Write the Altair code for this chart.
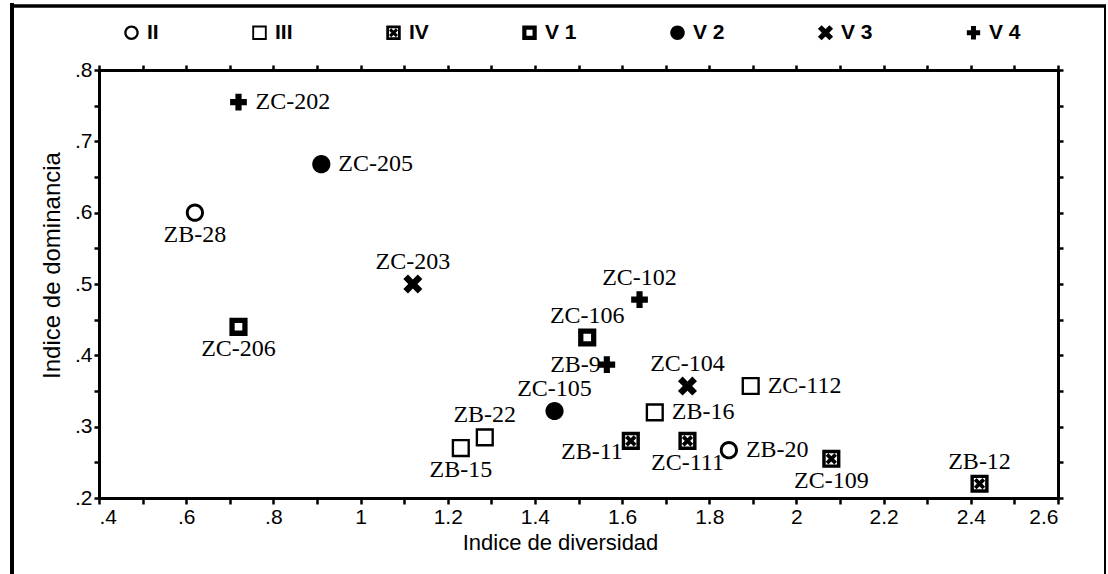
import altair as alt
import pandas as pd
import numpy as np

# ---- data ----
labels = ["ZC-202", "ZC-205", "ZB-28", "ZC-203", "ZC-206", "ZC-102", "ZC-106", "ZB-9",
          "ZC-105", "ZC-104", "ZC-112", "ZB-16", "ZB-22", "ZB-15", "ZB-11", "ZC-111",
          "ZB-20", "ZC-109", "ZB-12"]
diversidad = [0.72, 0.91, 0.62, 1.12, 0.72, 1.64, 1.52, 1.565,
              1.445, 1.75, 1.895, 1.675, 1.285, 1.23, 1.62, 1.75,
              1.845, 2.08, 2.42]
dominancia = [0.755, 0.668, 0.600, 0.500, 0.440, 0.478, 0.425, 0.387,
              0.322, 0.357, 0.357, 0.320, 0.285, 0.270, 0.280, 0.280,
              0.267, 0.255, 0.220]
grupo = ["V 4", "V 2", "II", "V 3", "V 1", "V 4", "V 1", "V 4",
         "V 2", "V 3", "III", "III", "III", "III", "IV", "IV",
         "II", "IV", "IV"]
group_order = ["II", "III", "IV", "V 1", "V 2", "V 3", "V 4"]

# label placement (layout, not data)
side = {"ZC-202": "right", "ZC-205": "right", "ZB-28": "below", "ZC-203": "above",
        "ZC-206": "below", "ZC-102": "above", "ZC-106": "above", "ZB-9": "left",
        "ZC-105": "above", "ZC-104": "above", "ZC-112": "right", "ZB-16": "right",
        "ZB-22": "above", "ZB-15": "below", "ZB-11": "lowleft", "ZC-111": "below",
        "ZB-20": "right", "ZC-109": "below", "ZB-12": "above"}

df = pd.DataFrame({"label": labels, "diversidad": diversidad,
                   "dominancia": dominancia, "grupo": grupo})
df["side"] = df["label"].map(side)

# ---- symbol shapes ----
def xshape(a=0.36, L=1.12):
    pts = [(-a, -L), (a, -L), (a, -a), (L, -a), (L, a), (a, a), (a, L), (-a, L),
           (-a, a), (-L, a), (-L, -a), (-a, -a)]
    r = 1 / np.sqrt(2)
    out = [((x - y) * r, (x + y) * r) for x, y in pts]
    return "M" + "L".join(f"{x:.3f},{y:.3f}" for x, y in out) + "Z"

ring = "M-1,0A1,1,0,1,0,1,0A1,1,0,1,0,-1,0Z M-0.68,0A0.68,0.68,0,1,1,0.68,0A0.68,0.68,0,1,1,-0.68,0Z"
open_sq = "M-1,-1H1V1H-1Z M-0.74,-0.74V0.74H0.74V-0.74Z"
box_x = ("M-1,-1H1V1H-1Z M-0.62,-0.62V0.62H0.62V-0.62Z "
         "M-0.62,-0.32L-0.32,-0.62L0.62,0.32L0.32,0.62Z "
         "M0.32,-0.62L0.62,-0.32L-0.32,0.62L-0.62,0.32Z")
thick_sq = "M-1,-1H1V1H-1Z M-0.42,-0.42V0.42H0.42V-0.42Z"
disk = "M-1,0A1,1,0,1,0,1,0A1,1,0,1,0,-1,0Z"
plus = "M-0.34,-0.92H0.34V-0.34H0.92V0.34H0.34V0.92H-0.34V0.34H-0.92V-0.34H-0.34Z"
shape_paths = [ring, open_sq, box_x, thick_sq, disk, xshape(), plus]

# ---- layout ----
PL, PT = 99, 70
W, H = 959, 428
TOTAL_W, TOTAL_H = 1108, 574

xs = alt.Scale(domain=[0.4, 2.6], nice=False, zero=False)
ys = alt.Scale(domain=[0.2, 0.8], nice=False, zero=False)
x_vals = [round(0.4 + 0.1 * i, 2) for i in range(23)]
y_vals = [round(0.2 + 0.05 * i, 2) for i in range(13)]
x_lab = "(round(datum.value*10) % 2 == 0) ? replace(format(datum.value, '~g'), '0.', '.') : ''"
y_lab = "(round(datum.value*100) % 10 == 0) ? replace(format(datum.value, '~g'), '0.', '.') : ''"

SANS = "Liberation Sans"
SERIF = "Liberation Serif"

base = alt.Chart(df)

points = base.mark_point(filled=True, color="black", opacity=1, size=330, strokeWidth=0).encode(
    x=alt.X("diversidad:Q", scale=xs,
            axis=alt.Axis(orient="bottom", values=x_vals, labelExpr=x_lab, labelOverlap=False,
                          title="Indice de diversidad", tickSize=6, labelPadding=2,
                          titlePadding=5, titleX=461, labelFontSize=21, titleFontSize=22)),
    y=alt.Y("dominancia:Q", scale=ys,
            axis=alt.Axis(orient="left", values=y_vals, labelExpr=y_lab, labelOverlap=False,
                          title="Indice de dominancia", tickSize=5, labelPadding=2,
                          titlePadding=10, titleY=195, labelFontSize=21, titleFontSize=24)),
    shape=alt.Shape("grupo:N", scale=alt.Scale(domain=group_order, range=shape_paths),
                    legend=alt.Legend(title=None, orient="none", legendX=22, legendY=-48,
                                      direction="horizontal", columns=7, columnPadding=90,
                                      symbolSize=210, symbolFillColor="black",
                                      symbolStrokeColor="black", symbolStrokeWidth=0,
                                      symbolOpacity=1, labelFont=SANS, labelFontWeight="bold",
                                      labelFontSize=21, labelOffset=5, labelColor="black")),
)

frame_axes = base.mark_point(opacity=0).encode(
    x=alt.X("diversidad:Q", scale=xs,
            axis=alt.Axis(orient="top", values=x_vals, labels=False, title=None, tickSize=5)),
    y=alt.Y("dominancia:Q", scale=ys,
            axis=alt.Axis(orient="right", values=y_vals, labels=False, title=None, tickSize=5)),
)

def text_layer(sides, align, dx, dy):
    return base.transform_filter(
        alt.FieldOneOfPredicate(field="side", oneOf=sides)
    ).mark_text(font=SERIF, fontSize=24, color="black", align=align,
                baseline="middle", dx=dx, dy=dy).encode(
        x=alt.X("diversidad:Q", scale=xs, axis=None),
        y=alt.Y("dominancia:Q", scale=ys, axis=None),
        text="label:N",
    )

t_right = text_layer(["right"], "left", 17, 0)
t_left = text_layer(["left"], "right", -6, 0)
t_lowleft = text_layer(["lowleft"], "right", -8, 11)
t_above = text_layer(["above"], "center", 0, -22)
t_below = text_layer(["below"], "center", 0, 22)

# outer frame of the figure (decoration)
one = pd.DataFrame({"k": [0]})
fl = alt.Chart(one).mark_rule(color="black", strokeWidth=4).encode(
    x=alt.value(12 - PL), y=alt.value(3 - PT), y2=alt.value(TOTAL_H - PT))
ft = alt.Chart(one).mark_rule(color="black", strokeWidth=3.5).encode(
    x=alt.value(12 - PL), x2=alt.value(1106 - PL), y=alt.value(6 - PT))
fr = alt.Chart(one).mark_rule(color="black", strokeWidth=2).encode(
    x=alt.value(1105 - PL), y=alt.value(5 - PT), y2=alt.value(TOTAL_H - PT))

chart = alt.layer(
    points, frame_axes, t_right, t_left, t_lowleft, t_above, t_below, fl, ft, fr
).resolve_axis(x="independent", y="independent").properties(
    width=W, height=H,
    autosize=alt.AutoSizeParams(type="none"),
    padding={"left": PL, "top": PT, "right": TOTAL_W - PL - W, "bottom": TOTAL_H - PT - H},
    background="white",
).configure_view(stroke=None).configure_axis(
    domainColor="black", domainWidth=3, tickColor="black", tickWidth=2.5,
    labelColor="black", titleColor="black", labelFont=SANS, titleFont=SANS,
    titleFontWeight="normal", grid=False,
)

chart.save("out.html", embed_options={"renderer": "svg", "actions": False})
